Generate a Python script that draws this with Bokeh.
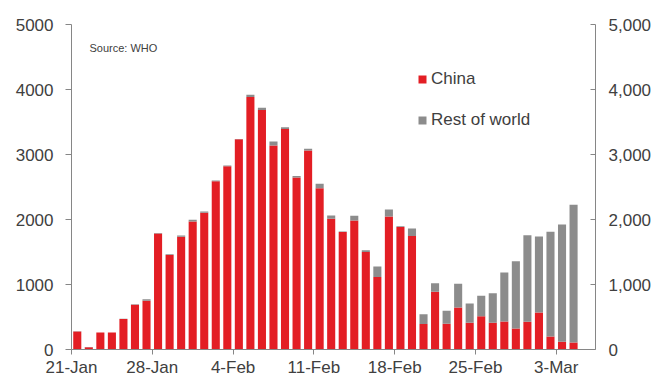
from bokeh.plotting import figure
from bokeh.models import (Range1d, LinearAxis, FixedTicker, NumeralTickFormatter,
                          Legend, LegendItem, Label, ColumnDataSource)
from bokeh.embed import file_html
from bokeh.resources import INLINE

dates = ["21-Jan", "22-Jan", "23-Jan", "24-Jan", "25-Jan", "26-Jan", "27-Jan",
         "28-Jan", "29-Jan", "30-Jan", "31-Jan", "1-Feb", "2-Feb", "3-Feb",
         "4-Feb", "5-Feb", "6-Feb", "7-Feb", "8-Feb", "9-Feb", "10-Feb",
         "11-Feb", "12-Feb", "13-Feb", "14-Feb", "15-Feb", "16-Feb", "17-Feb",
         "18-Feb", "19-Feb", "20-Feb", "21-Feb", "22-Feb", "23-Feb", "24-Feb",
         "25-Feb", "26-Feb", "27-Feb", "28-Feb", "29-Feb", "1-Mar", "2-Mar",
         "3-Mar", "4-Mar"]
china = [276, 36, 260, 260, 469, 689, 750, 1786, 1454, 1735, 1969, 2102, 2587, 2821,
         3235, 3883, 3684, 3138, 3393, 2648, 3061, 2480, 2010, 1806, 1985, 1500, 1117,
         2046, 1883, 1745, 393, 888, 395, 646, 410, 513, 410, 431, 323, 426, 569, 200,
         118, 108]
rest_of_world = [4, 2, 3, 3, 5, 6, 25, 8, 12, 20, 26, 20, 12, 11,
                 5, 35, 35, 61, 25, 20, 26, 71, 51, 10, 71, 26, 159,
                 107, 15, 117, 148, 132, 200, 364, 298, 313, 457, 754, 1036, 1333, 1169, 1610,
                 1805, 2118]
tick_labels = ["21-Jan", "28-Jan", "4-Feb", "11-Feb", "18-Feb", "25-Feb", "3-Mar"]

RED = "#E31E24"
GREY = "#8C8C8C"
TXT = "#404040"
AX = "#868686"
FONT = "Liberation Sans"

xs = [i + 0.5 for i in range(len(dates))]
src = ColumnDataSource(dict(x=xs, date=dates, China=china, Rest=rest_of_world))

p = figure(width=654, height=379, output_backend="svg", toolbar_location=None,
           x_range=Range1d(0, 45.4), y_range=Range1d(0, 5000),
           min_border_left=71, min_border_right=59, min_border_top=24, min_border_bottom=28)
p.outline_line_color = None
p.grid.visible = False
p.background_fill_color = "white"
p.border_fill_color = "white"

rs = p.vbar_stack(["China", "Rest"], x="x", width=0.7, color=[RED, GREY],
                  line_color=None, source=src)

# x axis
xa = p.xaxis[0]
tick_pos = [dates.index(t) for t in tick_labels]
xa.ticker = FixedTicker(ticks=tick_pos)
xa.major_label_overrides = {pos: lab for pos, lab in zip(tick_pos, tick_labels)}
xa.minor_tick_line_color = None
xa.major_tick_in = 0
xa.major_tick_out = 5
xa.major_label_standoff = 3

ya = p.yaxis[0]
ya.ticker = FixedTicker(ticks=[0, 1000, 2000, 3000, 4000, 5000])
ya.formatter = NumeralTickFormatter(format="0")
ya.minor_tick_line_color = None
ya.major_tick_in = 0
ya.major_tick_out = 6
ya.major_label_standoff = 12

ra = LinearAxis(ticker=FixedTicker(ticks=[0, 1000, 2000, 3000, 4000, 5000]),
                formatter=NumeralTickFormatter(format="0,0"))
ra.minor_tick_line_color = None
ra.major_tick_in = 5
ra.major_tick_out = 0
ra.major_label_standoff = 13
p.add_layout(ra, "right")

for ax in [xa, ya, ra]:
    ax.axis_line_color = AX
    ax.major_tick_line_color = AX
    ax.major_label_text_font = FONT
    ax.major_label_text_font_size = "17px"
    ax.major_label_text_color = TXT

legend = Legend(items=[LegendItem(label="China", renderers=[rs[0]]),
                       LegendItem(label="Rest of world", renderers=[rs[1]])],
                location=(346, 219), orientation="vertical")
legend.glyph_width = 10
legend.glyph_height = 10
legend.label_height = 20
legend.label_standoff = 4
legend.spacing = 21
legend.padding = 0
legend.margin = 0
legend.border_line_color = None
legend.background_fill_alpha = 0
legend.label_text_font = FONT
legend.label_text_font_size = "17px"
legend.label_text_color = TXT
p.add_layout(legend, "center")

p.add_layout(Label(x=18, y=302, x_units="screen", y_units="screen", text="Source: WHO",
                   text_font=FONT, text_font_size="11px", text_color=TXT,
                   text_baseline="middle"))

open("out.html", "w").write(file_html(p, INLINE))
